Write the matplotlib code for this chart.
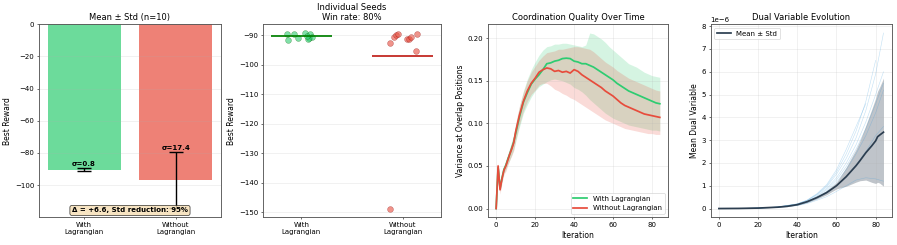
import numpy as np
import matplotlib
matplotlib.use("Agg")
import matplotlib.pyplot as plt

GREEN = "#2ecc71"
RED = "#e74c3c"
DARK = "#2c3e50"

# best reward per seed
with_reward = [-89.6, -91.7, -89.5, -91.0, -89.2, -90.8, -89.4, -90.4, -91.3, -90.1]
with_jitter = [-0.147, -0.13, -0.07, -0.03, 0.04, 0.07, 0.087, 0.107, 0.06, 0.05]
without_reward = [-92.5, -90.6, -89.8, -89.4, -91.2, -91.1, -90.5, -89.5, -95.4, -148.8]
without_jitter = [0.88, 0.91, 0.93, 0.95, 1.04, 1.06, 1.085, 1.14, 1.13, 0.88]
group_labels = ["With\nLagrangian", "Without\nLagrangian"]

# coordination quality (variance at overlap positions)
iters = [0, 1, 2, 3, 4, 5, 6, 7, 8, 9, 10, 12, 14, 16, 18, 20, 22, 24, 26, 28, 30, 32,
         34, 36, 38, 40, 42, 44, 46, 48, 50, 52, 54, 56, 58, 60, 62, 64, 66, 68, 70,
         72, 74, 76, 78, 80, 82, 84]
var_with = [0.000, 0.048, 0.024, 0.036, 0.046, 0.051, 0.058, 0.064, 0.071, 0.078, 0.088,
            0.108, 0.125, 0.136, 0.146, 0.152, 0.157, 0.163, 0.170, 0.171, 0.173, 0.174,
            0.176, 0.1765, 0.176, 0.173, 0.172, 0.170, 0.170, 0.168, 0.166, 0.163, 0.160,
            0.157, 0.154, 0.151, 0.147, 0.144, 0.141, 0.138, 0.136, 0.134, 0.132, 0.130,
            0.128, 0.126, 0.124, 0.123]
var_with_hi = [0.000, 0.052, 0.028, 0.040, 0.050, 0.056, 0.064, 0.071, 0.079, 0.087, 0.098,
               0.120, 0.138, 0.152, 0.163, 0.172, 0.180, 0.186, 0.190, 0.191, 0.193, 0.193,
               0.194, 0.194, 0.193, 0.192, 0.191, 0.190, 0.192, 0.206, 0.205, 0.202, 0.199,
               0.195, 0.190, 0.186, 0.182, 0.178, 0.174, 0.170, 0.168, 0.166, 0.163, 0.160,
               0.158, 0.156, 0.155, 0.154]
var_with_lo = [0.000, 0.044, 0.020, 0.032, 0.042, 0.046, 0.052, 0.057, 0.063, 0.069, 0.078,
               0.096, 0.112, 0.122, 0.131, 0.138, 0.143, 0.146, 0.149, 0.151, 0.152, 0.151,
               0.150, 0.148, 0.146, 0.142, 0.140, 0.137, 0.133, 0.128, 0.124, 0.120, 0.116,
               0.112, 0.109, 0.106, 0.104, 0.102, 0.100, 0.098, 0.097, 0.096, 0.095, 0.094,
               0.093, 0.092, 0.092, 0.091]
var_without = [0.000, 0.050, 0.022, 0.035, 0.045, 0.050, 0.057, 0.064, 0.070, 0.077, 0.090,
               0.110, 0.126, 0.138, 0.147, 0.153, 0.160, 0.163, 0.165, 0.164, 0.161, 0.162,
               0.160, 0.161, 0.159, 0.163, 0.161, 0.157, 0.154, 0.151, 0.148, 0.145, 0.142,
               0.138, 0.135, 0.132, 0.128, 0.124, 0.121, 0.119, 0.117, 0.115, 0.113, 0.111,
               0.110, 0.109, 0.108, 0.107]
var_without_hi = [0.000, 0.054, 0.027, 0.040, 0.050, 0.056, 0.063, 0.071, 0.078, 0.086, 0.100,
                  0.121, 0.137, 0.150, 0.160, 0.167, 0.174, 0.179, 0.183, 0.184, 0.185, 0.187,
                  0.187, 0.188, 0.189, 0.190, 0.190, 0.189, 0.188, 0.187, 0.184, 0.180, 0.176,
                  0.172, 0.169, 0.166, 0.162, 0.159, 0.156, 0.153, 0.151, 0.149, 0.147, 0.145,
                  0.143, 0.141, 0.139, 0.138]
var_without_lo = [0.000, 0.046, 0.017, 0.030, 0.040, 0.044, 0.051, 0.057, 0.062, 0.068, 0.080,
                  0.099, 0.115, 0.126, 0.134, 0.139, 0.145, 0.147, 0.147, 0.144, 0.140, 0.138,
                  0.135, 0.133, 0.130, 0.128, 0.125, 0.122, 0.119, 0.116, 0.113, 0.110, 0.107,
                  0.104, 0.102, 0.100, 0.098, 0.096, 0.094, 0.093, 0.092, 0.091, 0.090, 0.089,
                  0.088, 0.088, 0.087, 0.087]

# dual variable (units of 1e-6)
dual_iters = [0, 10, 20, 30, 35, 40, 45, 50, 55, 60, 65, 70, 72, 75, 78, 80, 81, 82, 84]
dual_mean = [0.0, 0.005, 0.02, 0.06, 0.10, 0.17, 0.30, 0.48, 0.70, 1.0, 1.4, 1.88, 2.1,
             2.45, 2.75, 2.97, 3.15, 3.22, 3.35]
dual_std = [0.0, 0.001, 0.004, 0.01, 0.015, 0.025, 0.04, 0.06, 0.09, 0.14, 0.42, 0.72,
            0.88, 1.2, 1.6, 1.87, 2.0, 2.1, 2.37]
seed_iters = [0, 10, 20, 30, 40, 45, 50, 55, 60, 65, 70, 75, 80, 84]
dual_seeds = [
    [0, 0.005, 0.02, 0.07, 0.20, 0.35, 0.60, 0.95, 1.5, 2.2, 3.1, 4.3, 5.9, 7.7],
    [0, 0.005, 0.02, 0.07, 0.20, 0.36, 0.62, 1.00, 1.6, 2.4, 3.4, 4.7, 6.5, np.nan],
    [0, 0.005, 0.02, 0.07, 0.21, 0.37, 0.65, 1.05, 1.7, 2.6, 3.6, 4.6, np.nan, np.nan],
    [0, 0.005, 0.02, 0.06, 0.18, 0.32, 0.55, 0.88, 1.35, 2.0, 2.8, 3.8, 5.0, 6.0],
    [0, 0.005, 0.02, 0.06, 0.17, 0.30, 0.52, 0.82, 1.25, 1.85, 2.6, 3.5, 4.6, 5.5],
    [0, 0.004, 0.02, 0.06, 0.16, 0.28, 0.48, 0.75, 1.15, 1.7, 2.4, 3.2, 4.2, 5.2],
    [0, 0.004, 0.018, 0.055, 0.15, 0.26, 0.44, 0.68, 1.0, 1.4, 1.9, 2.5, 3.2, 3.6],
    [0, 0.004, 0.015, 0.05, 0.13, 0.22, 0.36, 0.52, 0.75, 1.0, 1.25, 1.35, 1.3, 1.2],
]

fig = plt.figure(figsize=(17.94, 4.9), dpi=50)
rects = [(0.0438, 0.113, 0.2022, 0.788), (0.2932, 0.113, 0.1985, 0.788),
         (0.544, 0.113, 0.2007, 0.788), (0.7923, 0.113, 0.2018, 0.788)]
axes = [fig.add_axes(r) for r in rects]
for ax in axes:
    for s in ax.spines.values():
        s.set_color("0.35")
        s.set_linewidth(1.3)
    ax.tick_params(labelsize=10)

# --- panel 1: mean +- std bars
ax = axes[0]
m1, m2 = np.mean(with_reward), np.mean(without_reward)
s1, s2 = np.std(with_reward), np.std(without_reward)
ax.bar([0, 1], [m1, m2], width=0.8, color=[GREEN, RED], alpha=0.7)
ax.errorbar([0, 1], [m1, m2], yerr=[s1, s2], fmt="none", ecolor="black",
            elinewidth=2, capsize=10, capthick=2)
ax.text(0, m1 + s1 + 1, f"σ={s1:.1f}", ha="center", va="bottom", fontsize=10, fontweight="bold")
ax.text(1, m2 + s2 + 1, f"σ={s2:.1f}", ha="center", va="bottom", fontsize=10, fontweight="bold")
ax.set_ylim(1.05 * min(m1 - s1, m2 - s2), 0)
ax.set_xticks([0, 1])
ax.set_xticklabels(group_labels)
ax.set_ylabel("Best Reward", fontsize=11)
ax.set_title("Mean ± Std (n=10)", fontsize=12)
ax.grid(axis="y", alpha=0.3)
red_pct = (1 - s1 / s2) * 100
ax.text(0.5, 0.02, f"Δ = +{m1 - m2:.1f}, Std reduction: {red_pct:.0f}%",
        transform=ax.transAxes, ha="center", va="bottom", fontsize=10, fontweight="bold",
        bbox=dict(boxstyle="round", facecolor="wheat", alpha=0.8), zorder=5)

# --- panel 2: individual seeds
ax = axes[1]
ax.scatter(with_jitter, with_reward, s=70, color=GREEN, alpha=0.6, edgecolor="darkgreen", linewidth=0.6)
ax.scatter(without_jitter, without_reward, s=70, color=RED, alpha=0.6, edgecolor="darkred", linewidth=0.6)
ax.hlines(m1, -0.3, 0.3, color="green", linewidth=2.5)
ax.hlines(m2, 0.7, 1.3, color="#c0201a", linewidth=2.5)
ax.set_xticks([0, 1])
ax.set_xticklabels(group_labels)
ax.set_ylabel("Best Reward", fontsize=11)
wins = 80
ax.set_title(f"Individual Seeds\nWin rate: {wins}%", fontsize=12)
ax.grid(axis="y", alpha=0.3)

# --- panel 3: coordination quality
ax = axes[2]
ax.fill_between(iters, var_with_lo, var_with_hi, color=GREEN, alpha=0.2, linewidth=0)
ax.fill_between(iters, var_without_lo, var_without_hi, color=RED, alpha=0.2, linewidth=0)
ax.plot(iters, var_with, color=GREEN, linewidth=2.5, label="With Lagrangian")
ax.plot(iters, var_without, color=RED, linewidth=2.5, label="Without Lagrangian")
ax.set_xlabel("Iteration", fontsize=11)
ax.set_ylabel("Variance at Overlap Positions", fontsize=11)
ax.set_title("Coordination Quality Over Time", fontsize=12)
ax.legend(loc="lower right", fontsize=10)
ax.grid(alpha=0.3)

# --- panel 4: dual variable
ax = axes[3]
for seed in dual_seeds:
    ax.plot(seed_iters, np.array(seed) * 1e-6, color="#3498db", alpha=0.3, linewidth=0.8)
dm = np.array(dual_mean) * 1e-6
ds = np.array(dual_std) * 1e-6
ax.plot(dual_iters, dm, color=DARK, linewidth=2.5, label="Mean ± Std")
ax.fill_between(dual_iters, dm - ds, dm + ds, color=DARK, alpha=0.3, linewidth=0)
ax.set_xlabel("Iteration", fontsize=11)
ax.set_ylabel("Mean Dual Variable", fontsize=11)
ax.set_title("Dual Variable Evolution", fontsize=12)
ax.legend(loc="upper left", fontsize=10)
ax.grid(alpha=0.3)
ax.yaxis.get_offset_text().set_fontsize(10)

fig.savefig("out.png", dpi=50)
